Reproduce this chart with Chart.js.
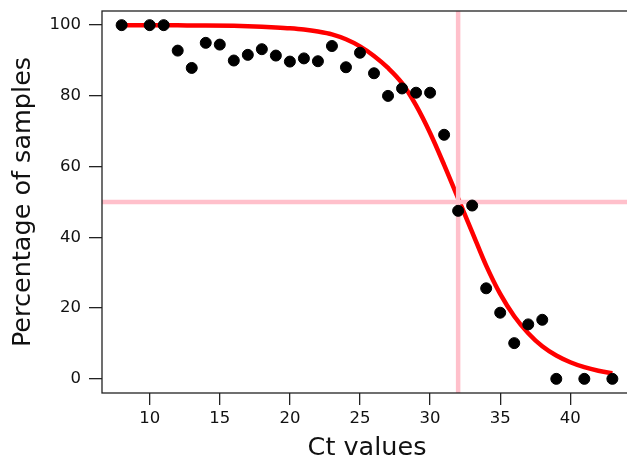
<!DOCTYPE html>
<html>
<head>
<meta charset="utf-8">
<script src="https://cdn.jsdelivr.net/npm/chart.js@4"></script>
<style>
  html, body { margin: 0; padding: 0; background: #fff; overflow: hidden; }
  #wrap { width: 640px; height: 460px; }
</style>
</head>
<body>
<div id="wrap"><canvas id="js--chart--1"></canvas></div>
<script>
// observed points
const ctValues = [8, 10, 11, 12, 13, 14, 15, 16, 17, 18, 19, 20, 21, 22, 23, 24, 25,
    26, 27, 28, 29, 30, 31, 32, 33, 34, 35, 36, 37, 38, 39, 41, 43];
const pctValues = [100, 100, 100, 92.8, 87.9, 95.0, 94.5, 90.0, 91.6, 93.2, 91.4, 89.7, 90.6, 89.8, 94.1, 88.1, 92.2,
    86.4, 80.0, 82.1, 80.9, 80.9, 69.0, 47.5, 49.0, 25.6, 18.7, 10.1, 15.4, 16.7, 0, 0, 0];

// fitted curve
const curveCt = [8, 10, 12, 14, 16, 17, 18, 19, 20, 21, 22, 23, 24, 25, 26, 27, 28, 29, 30, 31,
    32, 33, 34, 35, 36, 37, 38, 39, 40, 41, 42, 43];
const curveFit = [100, 100, 99.95, 99.9, 99.8, 99.7, 99.55, 99.35, 99.1, 98.75, 98.2, 97.4, 96.0, 94.0, 91.3, 87.9, 83.6, 77.3, 69.5, 60.5,
    51.0, 41.5, 32.0, 24.0, 17.7, 12.9, 9.2, 6.6, 4.7, 3.3, 2.3, 1.6];

// reference lines
const cutoffCt = 32;
const cutoffPct = 50;

const xTicks = [10, 15, 20, 25, 30, 35, 40];
const yTicks = [0, 20, 40, 60, 80, 100];

const xMin = 6.6, xMax = 44.4;
const yMin = -4, yMax = 104;

const boxPlugin = {
    id: 'box',
    afterDraw(chart) {
        const a = chart.chartArea;
        const ctx = chart.ctx;
        ctx.save();
        ctx.strokeStyle = '#222';
        ctx.lineWidth = 1.3;
        ctx.strokeRect(a.left, a.top, a.right - a.left, a.bottom - a.top);
        ctx.restore();
    }
};

const data = {
    datasets: [
        {
            label: 'points',
            data: ctValues.map((c, i) => ({x: c, y: pctValues[i]})),
            backgroundColor: '#000',
            borderColor: '#000',
            pointRadius: 5.5,
            showLine: false,
            order: 0
        },
        {
            label: 'h',
            data: [{x: xMin, y: cutoffPct}, {x: xMax, y: cutoffPct}],
            borderColor: '#FFC0CB',
            borderWidth: 4.5,
            pointRadius: 0,
            showLine: true,
            order: 1
        },
        {
            label: 'v',
            data: [{x: cutoffCt, y: yMin}, {x: cutoffCt, y: yMax}],
            borderColor: '#FFC0CB',
            borderWidth: 4.5,
            pointRadius: 0,
            showLine: true,
            order: 1
        },
        {
            label: 'fit',
            data: curveCt.map((c, i) => ({x: c, y: curveFit[i]})),
            borderColor: '#FF0000',
            borderWidth: 4.5,
            pointRadius: 0,
            showLine: true,
            cubicInterpolationMode: 'monotone',
            order: 2
        }
    ]
};

const font = "'DejaVu Sans', sans-serif";

const config = {
    type: 'scatter',
    data: data,
    plugins: [boxPlugin],
    options: {
        responsive: true,
        maintainAspectRatio: false,
        animation: false,
        layout: { padding: { top: 11, right: 8, left: 0, bottom: 0 } },
        plugins: { legend: { display: false }, tooltip: { enabled: false } },
        scales: {
            x: {
                type: 'linear',
                min: xMin,
                max: xMax,
                afterBuildTicks: s => { s.ticks = xTicks.map(v => ({value: v})); },
                afterFit: s => { s.height = 67; s.paddingLeft = 0; s.paddingRight = 0; },
                grid: { drawOnChartArea: false, drawTicks: true, tickLength: 12, color: '#222', lineWidth: 1.3 },
                border: { display: false },
                ticks: { color: '#111', font: { family: font, size: 16.5 }, padding: 4, maxRotation: 0 },
                title: { display: true, text: 'Ct values', color: '#111', font: { family: font, size: 25.5, lineHeight: 1 }, padding: { top: 0, bottom: -1 } }
            },
            y: {
                type: 'linear',
                min: yMin,
                max: yMax,
                afterBuildTicks: s => { s.ticks = yTicks.map(v => ({value: v})); },
                afterFit: s => { s.width = 102; s.paddingTop = 0; s.paddingBottom = 0; },
                grid: { drawOnChartArea: false, drawTicks: true, tickLength: 13, color: '#222', lineWidth: 1.3 },
                border: { display: false },
                ticks: { color: '#111', font: { family: font, size: 16.5 }, padding: 8 },
                title: { display: true, text: 'Percentage of samples', color: '#111', font: { family: font, size: 25.5 }, padding: { top: 8, bottom: 0 } }
            }
        }
    }
};

new Chart(document.getElementById('js--chart--1'), config);
</script>
</body>
</html>
